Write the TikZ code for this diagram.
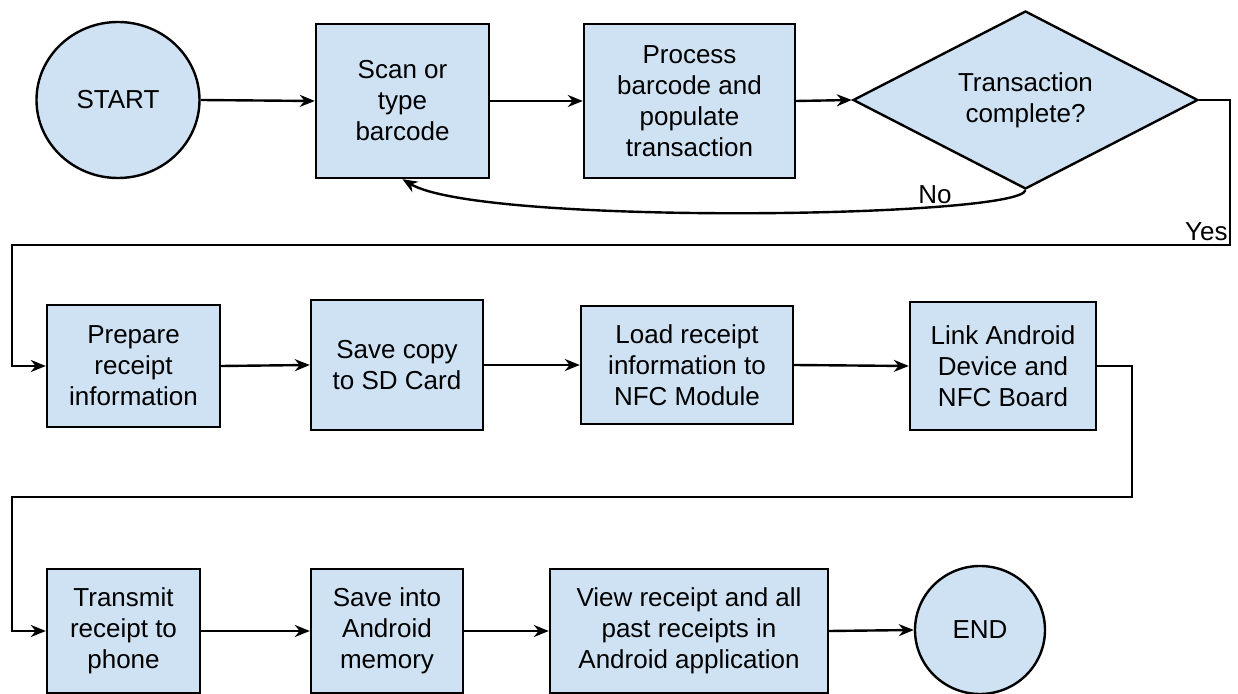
\documentclass[tikz,border=0pt]{standalone}
\usepackage{fontspec}
\setmainfont{Liberation Sans}
\usetikzlibrary{arrows.meta,shapes.geometric}

\definecolor{boxblue}{HTML}{CFE2F3}

\tikzset{
  box/.style={draw, line width=1.2pt, fill=boxblue, align=center, inner sep=0pt},
  oval/.style={ellipse, draw, line width=1.2pt, fill=boxblue, inner sep=0pt},
  flow/.style={line width=1.2pt, -{Stealth[length=7.5pt,width=6pt]}},
  wire/.style={line width=1.2pt}
}

\begin{document}
\begin{tikzpicture}[x=0.5pt,y=-0.5pt,font=\fontsize{13}{15.5}\selectfont]

\useasboundingbox (0,0) rectangle (1238,694);

% first row
\node[oval,minimum width=81.5pt,minimum height=78pt] (start) at (118,100) {START};
\node[box,minimum width=86.5pt,minimum height=77pt] (scan) at (402.5,101) {Scan or\\type\\barcode};
\node[box,minimum width=105.5pt,minimum height=77pt] (process) at (689.5,101) {Process\\barcode and\\populate\\transaction};
\node[box,diamond,aspect=1.9,minimum width=172.5pt,minimum height=89pt] (check) at (1025.5,100) {Transaction\\complete?};

% second row
\node[box,minimum width=86.5pt,minimum height=61pt] (prep) at (133.5,366) {Prepare\\receipt\\information};
\node[box,minimum width=86pt,minimum height=65pt] (sdcard) at (397,365) {Save copy\\to SD Card};
\node[box,minimum width=106pt,minimum height=59pt] (nfc) at (687,365) {Load receipt\\information to\\NFC Module};
\node[box,minimum width=93pt,minimum height=64pt] (link) at (1003,366) {Link Android\\Device and\\NFC Board};

% third row
\node[box,minimum width=76.5pt,minimum height=62pt] (transmit) at (123.5,631) {Transmit\\receipt to\\phone};
\node[box,minimum width=76pt,minimum height=62pt] (memory) at (387,631) {Save into\\Android\\memory};
\node[box,minimum width=139pt,minimum height=62pt] (view) at (689,631) {View receipt and all\\past receipts in\\Android application};
\node[oval,minimum width=65pt,minimum height=64pt] (end) at (980,630) {END};

\draw[flow] (start.east) -- (scan.west);
\draw[flow] (scan.east) -- (process.west);
\draw[flow] (process.east) -- (check.west);
\draw[flow] (check.south) .. controls (1020,218) and (480,226) .. (scan.south);
\node (no) at (935,195) {No};

\draw[flow] (check.east) -| (1230,245) -- (12,245) |- (prep.west);
\node[anchor=south east,inner sep=1pt] (yes) at (1230,243) {Yes};

\draw[flow] (prep.east) -- (sdcard.west);
\draw[flow] (sdcard.east) -- (nfc.west);
\draw[flow] (nfc.east) -- (link.west);
\draw[flow] (link.east) -| (1132,497) -- (12,497) |- (transmit.west);

\draw[flow] (transmit.east) -- (memory.west);
\draw[flow] (memory.east) -- (view.west);
\draw[flow] (view.east) -- (end.west);

\end{tikzpicture}
\end{document}
